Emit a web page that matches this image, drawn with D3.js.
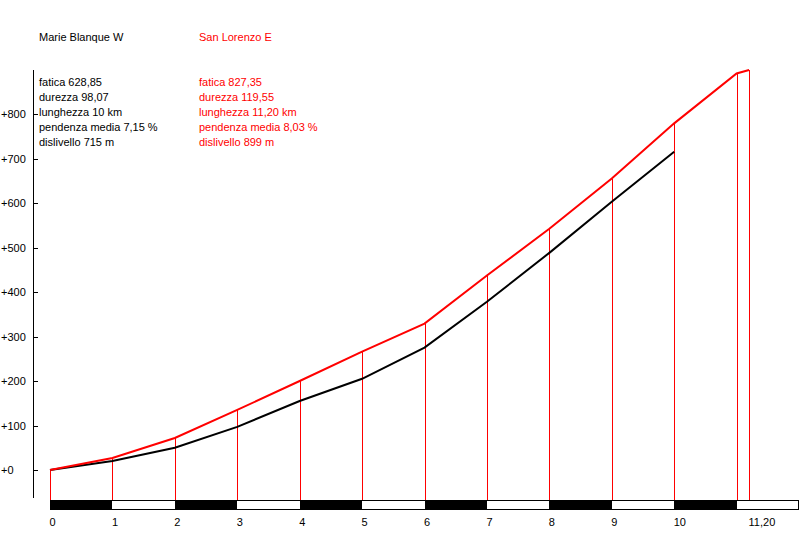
<!DOCTYPE html>
<html>
<head>
<meta charset="utf-8">
<script src="https://cdn.jsdelivr.net/npm/d3@7"></script>
<style>
  body { margin: 0; background: #fff; }
  text { font-family: Arial, "Liberation Sans", sans-serif; font-size: 11px; }
</style>
</head>
<body>
<div id="chart"></div>
<script>
const redKm = [0, 1, 2, 3, 4, 5, 6, 7, 8, 9, 10, 11, 11.2];
const redAlt = [0, 27, 72, 135, 200, 266, 329, 437, 542, 655, 779, 891, 899];
const blackKm = [0, 1, 2, 3, 4, 5, 6, 7, 8, 9, 10];
const blackAlt = [0, 20, 50, 97, 155, 205, 275, 378, 488, 603, 715];
const yTicks = [0, 100, 200, 300, 400, 500, 600, 700, 800];
const xTickValues = [0, 1, 2, 3, 4, 5, 6, 7, 8, 9, 10, 11.2];
const xTickLabels = ["0", "1", "2", "3", "4", "5", "6", "7", "8", "9", "10", "11,20"];
const blackInfo = ["fatica 628,85", "durezza 98,07", "lunghezza 10 km", "pendenza media 7,15 %", "dislivello 715 m"];
const redInfo = ["fatica 827,35", "durezza 119,55", "lunghezza 11,20 km", "pendenza media 8,03 %", "dislivello 899 m"];
const blackName = "Marie Blanque W";
const redName = "San Lorenzo E";

const width = 800, height = 560;
const svg = d3.select("#chart").append("svg").attr("width", width).attr("height", height);

const x = d3.scaleLinear().domain([0, 12]).range([50, 799]);
const y = d3.scaleLinear().domain([0, 800]).range([470, 114]);

// left axis
const yAxis = d3.axisRight(y).tickValues(yTicks).tickSize(4).tickSizeOuter(0).tickFormat(d => "+" + d);
const yg = svg.append("g").attr("transform", "translate(33.5,0)").call(yAxis);
yg.select(".domain").remove();
yg.selectAll(".tick line").attr("stroke", "#000").attr("shape-rendering", "crispEdges");
yg.selectAll(".tick text").attr("x", -32.5).attr("dy", "0.35em").attr("text-anchor", "start")
  .attr("fill", "#000").style("font-family", "Arial, 'Liberation Sans', sans-serif").style("font-size", "11px");
svg.append("line").attr("x1", 33.5).attr("x2", 33.5).attr("y1", 70).attr("y2", 498)
  .attr("stroke", "#000").attr("shape-rendering", "crispEdges");

// km bar
const segs = d3.range(12);
svg.append("g").selectAll("rect").data(segs).enter().append("rect")
  .attr("x", d => x(d)).attr("y", 500).attr("width", d => x(d + 1) - x(d)).attr("height", 9)
  .attr("fill", d => d % 2 === 0 ? "#000" : "#fff").attr("shape-rendering", "crispEdges");
svg.append("rect").attr("x", x(0) + 0.5).attr("y", 500.5).attr("width", x(12) - x(0) - 1).attr("height", 9)
  .attr("fill", "none").attr("stroke", "#000").attr("shape-rendering", "crispEdges");

svg.append("g").selectAll("text").data(xTickValues).enter().append("text")
  .attr("x", d => x(d) - 0.5).attr("y", 526).attr("fill", "#000")
  .text((d, i) => xTickLabels[i]);

// red verticals
svg.append("g").selectAll("line").data(redKm).enter().append("line")
  .attr("x1", d => Math.round(x(d)) + 0.5).attr("x2", d => Math.round(x(d)) + 0.5)
  .attr("y1", (d, i) => y(redAlt[i])).attr("y2", 500)
  .attr("stroke", "#f00").attr("stroke-width", 1).attr("shape-rendering", "crispEdges");

// profiles
const line = d3.line().x(d => x(d[0])).y(d => y(d[1]));
svg.append("path").datum(blackKm.map((k, i) => [k, blackAlt[i]])).attr("d", line)
  .attr("fill", "none").attr("stroke", "#000").attr("stroke-width", 2);
svg.append("path").datum(redKm.map((k, i) => [k, redAlt[i]])).attr("d", line)
  .attr("fill", "none").attr("stroke", "#f00").attr("stroke-width", 2);

// titles and info
svg.append("text").attr("x", 39).attr("y", 41).attr("fill", "#000").text(blackName);
svg.append("text").attr("x", 199).attr("y", 41).attr("fill", "#f00").text(redName);
svg.append("g").selectAll("text").data(blackInfo).enter().append("text")
  .attr("x", 39).attr("y", (d, i) => 86 + i * 15).attr("fill", "#000").text(d => d);
svg.append("g").selectAll("text").data(redInfo).enter().append("text")
  .attr("x", 199).attr("y", (d, i) => 86 + i * 15).attr("fill", "#f00").text(d => d);
</script>
</body>
</html>
